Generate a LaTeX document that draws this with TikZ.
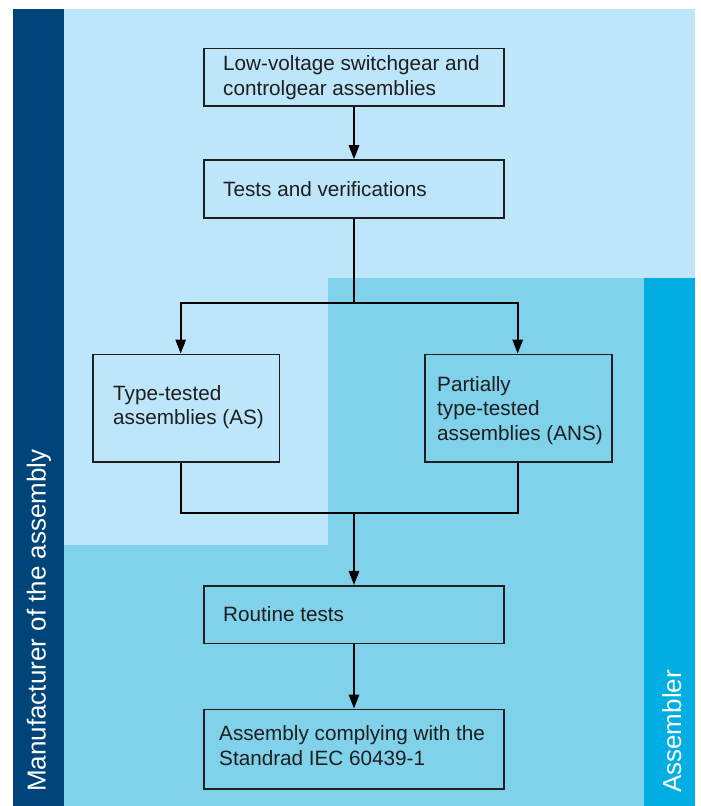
\documentclass[tikz,border=0pt]{standalone}
\usepackage{fontspec}
\setmainfont{Liberation Sans}
\usetikzlibrary{arrows.meta}
\definecolor{darkband}{RGB}{0,69,122}
\definecolor{lightbg}{RGB}{189,230,250}
\definecolor{midbg}{RGB}{128,210,235}
\definecolor{asmband}{RGB}{0,174,227}
\definecolor{ink}{RGB}{30,30,30}
\begin{document}
\begin{tikzpicture}[x=1pt,y=1pt,
  box/.style={draw=ink, line width=1.6pt, inner sep=0pt},
  txt/.style={anchor=base west, font=\fontsize{20.7}{24.2}\selectfont, text=ink, inner sep=0pt, align=left},
  side/.style={anchor=base west, rotate=90, font=\fontsize{26}{30}\selectfont, text=white, inner sep=0pt},
  conn/.style={draw=black, line width=1.6pt},
  arr/.style={conn, -{Triangle[length=14pt,width=10.5pt]}}]
\useasboundingbox (0,0) rectangle (701,-806);
% background panels
\fill[white] (0,0) rectangle (701,-806);
\fill[lightbg] (64,-9) rectangle (695,-806);
\fill[darkband] (13,-9) rectangle (64,-806);
\fill[midbg] (328,-278) -- (644,-278) -- (644,-806) -- (64,-806) -- (64,-545) -- (328,-545) -- cycle;
\fill[asmband] (644,-278) rectangle (695,-806);
% side labels
\node[side] (mfr) at (45.7,-792) {Manufacturer of the assembly};
\node[side] (asm) at (681,-793) {Assembler};
% boxes
\node[box, minimum width=300pt, minimum height=57.7pt] (b1) at (354,-77.15) {};
\node[box, minimum width=300pt, minimum height=57.7pt] (b2) at (354,-188.85) {};
\node[box, minimum width=186.6pt, minimum height=107.4pt] (b3) at (186,-408) {};
\node[box, minimum width=187pt, minimum height=107.4pt] (b4) at (518.2,-408) {};
\node[box, minimum width=300pt, minimum height=57.6pt] (b5) at (354,-614.5) {};
\node[box, minimum width=300pt, minimum height=79.7pt] (b6) at (354,-749.15) {};
% texts (base anchor = baseline of the last line)
\node[txt] (t1) at (223,-95) {Low-voltage switchgear and\\controlgear assemblies};
\node[txt] (t2) at (223,-196) {Tests and verifications};
\node[txt] (t3) at (113,-424.3) {Type-tested\\assemblies (AS)};
\node[txt] (t4) at (437,-440) {Partially\\type-tested\\assemblies (ANS)};
\node[txt] (t5) at (223,-621.7) {Routine tests};
\node[txt] (t6) at (219,-765) {Assembly complying with the\\Standrad IEC 60439-1};
% connectors
\coordinate (split) at (354,-302.7);
\coordinate (merge) at (354,-512.7);
\draw[arr] (b1.south) -- (b2.north);
\draw[conn] (b2.south) -- (split);
\draw[arr] (split) -| ([xshift=-5.3pt]b3.north);
\draw[arr] (split) -| ([xshift=-0.5pt]b4.north);
\draw[conn] ([xshift=-5.3pt]b3.south) |- (merge);
\draw[conn] ([xshift=-0.5pt]b4.south) |- (merge);
\draw[arr] (merge) -- (b5.north);
\draw[arr] (b5.south) -- (b6.north);
\end{tikzpicture}
\end{document}
